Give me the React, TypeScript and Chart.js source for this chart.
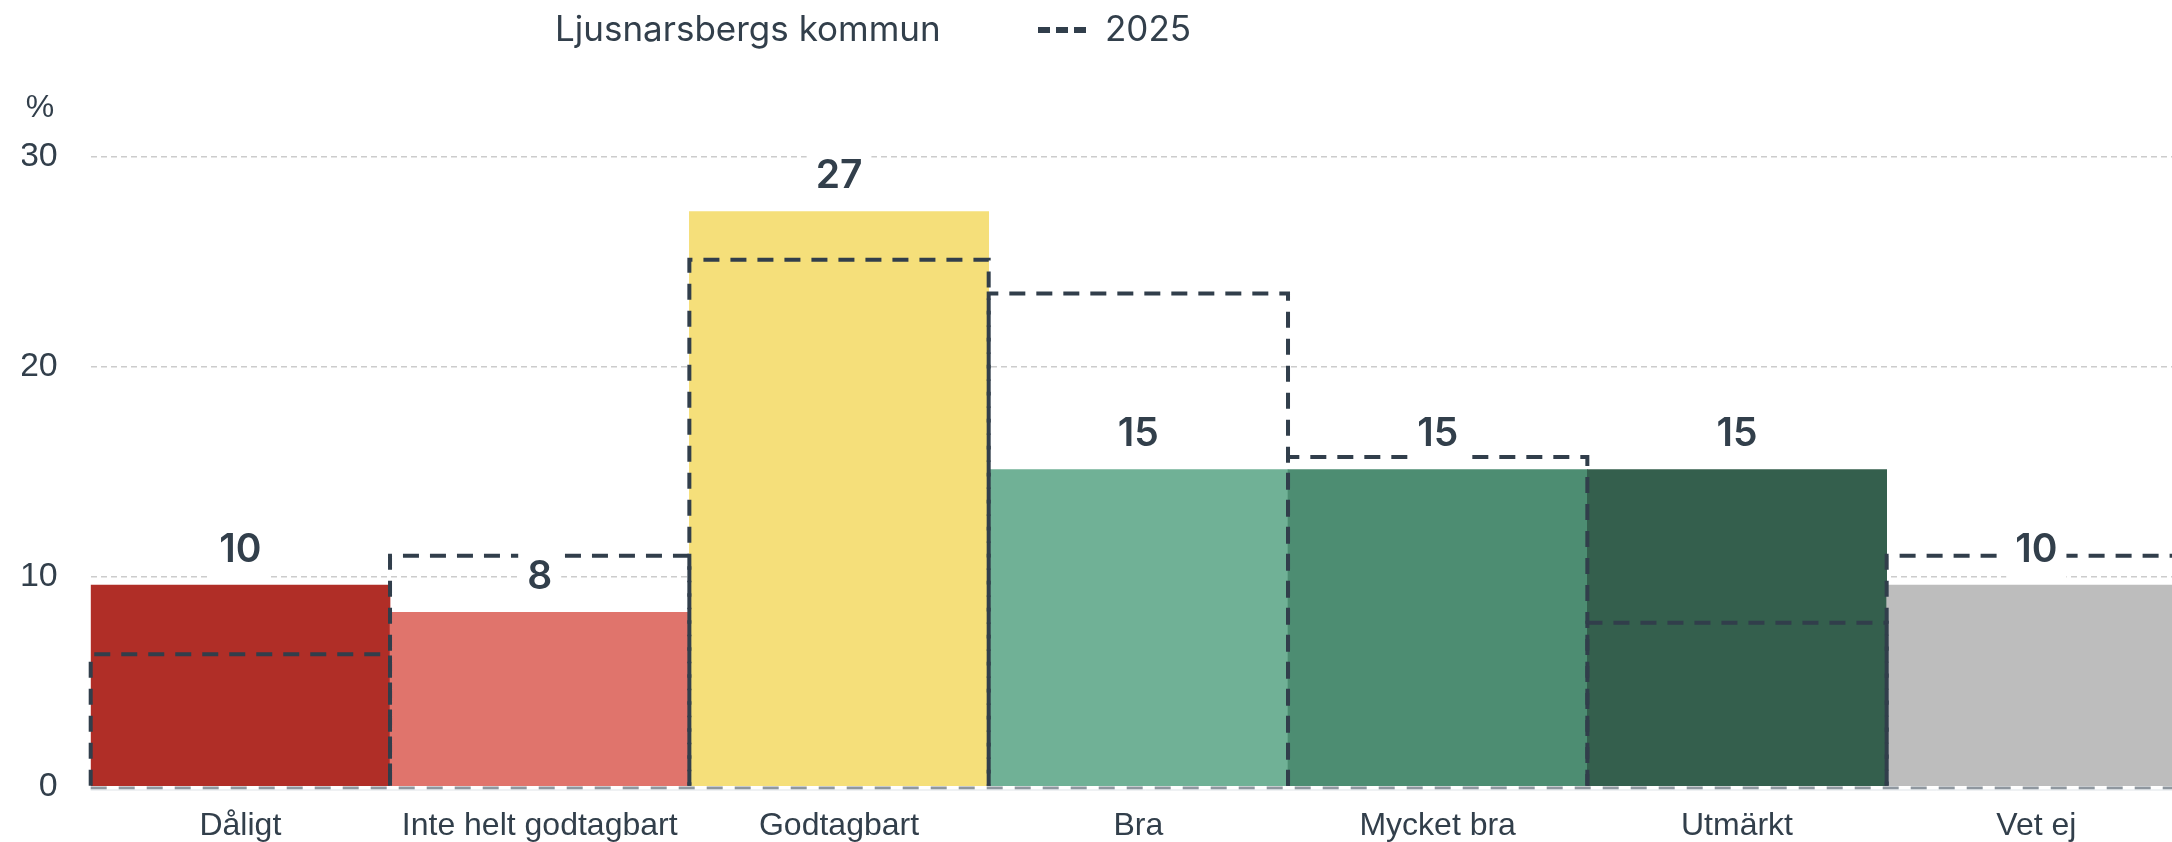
import React, { useEffect, useRef } from "react";
import { Chart, registerables } from "chart.js";

Chart.register(...registerables);

const categories = ["Dåligt", "Inte helt godtagbart", "Godtagbart", "Bra", "Mycket bra", "Utmärkt", "Vet ej"];
const values = [9.6, 8.3, 27.4, 15.1, 15.1, 15.1, 9.6];
const values2025 = [6.3, 11.0, 25.1, 23.5, 15.7, 7.8, 11.0];
const barColors = ["#b02e27", "#e0746c", "#f5df7a", "#70b196", "#4d8d72", "#345f4d", "#bdbdbd"];
const seriesName = "Ljusnarsbergs kommun";
const refName = "2025";
const unitLabel = "%";

const TEXT = "#323f4b";
const DASH_COLOR = "#313e4b";

const overlayPlugin = {
  id: "overlay",
  afterDatasetsDraw(chart: any) {
    const ctx = chart.ctx;
    const yScale = chart.scales.y;
    const area = chart.chartArea;
    const base = yScale.getPixelForValue(0);

    // zero line
    ctx.save();
    ctx.setLineDash([16, 12]);
    ctx.lineWidth = 3;
    ctx.strokeStyle = "#8f979f";
    ctx.beginPath();
    ctx.moveTo(area.left, base + 1.5);
    ctx.lineTo(chart.width, base + 1.5);
    ctx.stroke();
    ctx.setLineDash([]);
    ctx.lineWidth = 1;
    ctx.strokeStyle = "#dfe4e8";
    ctx.beginPath();
    ctx.moveTo(area.left, base + 3.5);
    ctx.lineTo(chart.width, base + 3.5);
    ctx.stroke();
    ctx.restore();

    // dashed reference rectangles
    const meta2 = chart.getDatasetMeta(1);
    ctx.save();
    ctx.strokeStyle = DASH_COLOR;
    ctx.lineWidth = 4;
    ctx.setLineDash([16, 11]);
    meta2.data.forEach((el: any) => {
      const p = el.getProps(["x", "y", "base", "width"], true);
      const l = p.x - p.width / 2;
      const r = p.x + p.width / 2;
      ctx.beginPath();
      ctx.moveTo(l, p.base);
      ctx.lineTo(l, p.y);
      ctx.lineTo(r, p.y);
      ctx.lineTo(r, p.base);
      ctx.stroke();
    });
    ctx.restore();

    // value labels
    const meta1 = chart.getDatasetMeta(0);
    ctx.save();
    ctx.font = "600 39px Inter";
    ctx.textAlign = "center";
    ctx.textBaseline = "middle";
    meta1.data.forEach((el: any, i: number) => {
      const p = el.getProps(["x", "y"], true);
      const txt = String(Math.round(values[i]));
      const cy = p.y - 36;
      const w = ctx.measureText(txt).width + 18;
      const h = 60;
      ctx.fillStyle = "#ffffff";
      ctx.fillRect(p.x - w / 2, cy - h / 2, w, h);
      ctx.fillStyle = TEXT;
      ctx.fillText(txt, p.x, cy + 1);
    });
    ctx.restore();
  },
  afterDraw(chart: any) {
    const ctx = chart.ctx;
    ctx.save();
    ctx.fillStyle = TEXT;
    ctx.textBaseline = "middle";
    ctx.textAlign = "left";
    ctx.font = "400 35px Inter";
    ctx.fillText(seriesName, 555, 30);
    ctx.fillText(refName, 1105, 30);
    ctx.strokeStyle = DASH_COLOR;
    ctx.lineWidth = 6;
    ctx.setLineDash([12, 6]);
    ctx.beginPath();
    ctx.moveTo(1038, 30);
    ctx.lineTo(1086, 30);
    ctx.stroke();
    ctx.setLineDash([]);
    ctx.font = "400 32px 'Liberation Sans'";
    ctx.textAlign = "center";
    ctx.fillText(unitLabel, 40, 108);
    ctx.restore();
  },
};

export default function App() {
  const ref = useRef<HTMLCanvasElement | null>(null);
  useEffect(() => {
    document.documentElement.style.overflow = "hidden";
    document.body.style.overflow = "hidden";
    const chart = new Chart(ref.current as HTMLCanvasElement, {
      type: "bar",
      data: {
        labels: categories,
        datasets: [
          {
            label: seriesName,
            data: values,
            backgroundColor: barColors,
            borderWidth: 0,
            grouped: false,
            barPercentage: 1,
            categoryPercentage: 1,
          },
          {
            label: refName,
            data: values2025,
            backgroundColor: "rgba(0,0,0,0)",
            borderWidth: 0,
            grouped: false,
            barPercentage: 1,
            categoryPercentage: 1,
          },
        ],
      },
      options: {
        animation: false,
        responsive: true,
        maintainAspectRatio: false,
        layout: { padding: { left: 22, top: 157, right: 14, bottom: 0 } },
        plugins: {
          legend: { display: false },
          tooltip: { enabled: false },
        },
        scales: {
          y: {
            min: 0,
            max: 30,
            afterFit: (s: any) => {
              s.width = 68.7;
            },
            ticks: {
              stepSize: 10,
              padding: 33,
              color: TEXT,
              font: { family: "'Liberation Sans'", size: 34 },
            },
            grid: {
              drawTicks: false,
              color: (c: any) => (c.tick && c.tick.value === 0 ? "rgba(0,0,0,0)" : "#cccccc"),
              lineWidth: 1.5,
            },
            border: { display: false, dash: [6, 4] },
          },
          x: {
            afterFit: (s: any) => {
              s.height = 55.5;
            },
            ticks: {
              padding: 20,
              color: TEXT,
              font: { family: "'Liberation Sans'", size: 32 },
              maxRotation: 0,
              autoSkip: false,
            },
            grid: { display: false, drawTicks: false },
            border: { display: false },
          },
        },
      },
      plugins: [overlayPlugin],
    });
    return () => chart.destroy();
  }, []);
  return (
    <div style={{ position: "absolute", left: 0, top: 0, width: 2200, height: 842 }}>
      <canvas ref={ref} />
    </div>
  );
}
